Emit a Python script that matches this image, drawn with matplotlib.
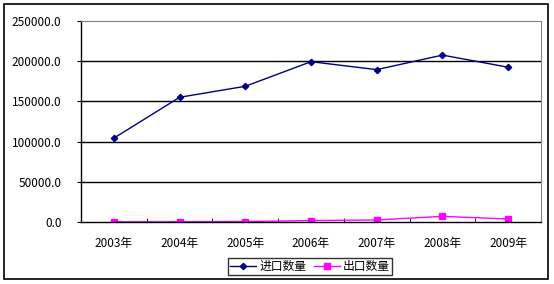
import matplotlib.pyplot as plt
from matplotlib.patches import Rectangle

plt.rcParams['font.family'] = ['Noto Sans CJK SC', 'DejaVu Sans']

#Data
years = ["2003年", "2004年", "2005年", "2006年", "2007年", "2008年", "2009年"]
imports = [104300, 155100, 168800, 199400, 189500, 207600, 192500]
exports = [200, 300, 600, 1800, 2500, 7000, 3700]
y_ticks = [0, 50000, 100000, 150000, 200000, 250000]

#Figure
fig = plt.figure(figsize=(5.54, 2.84), dpi=100)
fig.patches.append(Rectangle((4 / 554, 1 - 279 / 284), 544 / 554, 275 / 284,
                             transform=fig.transFigure, fill=False,
                             edgecolor="black", linewidth=1.2))
ax = fig.add_axes([81 / 554, 1 - 222 / 284, 460 / 554, 201 / 284])

x = list(range(len(years)))
ax.plot(x, imports, color="#000080", marker="D", markersize=3.2, linewidth=1, label="进口数量")
ax.plot(x, exports, color="#FF00FF", marker="s", markersize=3.8, linewidth=1, label="出口数量")

ax.set_xlim(-0.5, len(years) - 0.5)
ax.set_ylim(0, 250000)
ax.set_yticks(y_ticks)
ax.set_yticklabels(["%.1f" % v for v in y_ticks], fontsize=8.5)
ax.set_xticks(x)
ax.set_xticklabels(years, fontsize=8.5)
ax.set_xticks([i + 0.5 for i in x[:-1]], minor=True)
ax.tick_params(axis="x", which="major", length=0, pad=11)
ax.tick_params(axis="x", which="minor", length=3, direction="in")
ax.tick_params(axis="y", length=3, direction="out", pad=11)

for v in y_ticks[1:-1]:
    ax.axhline(v, color="black", linewidth=1, zorder=0)
ax.spines["top"].set_color("#808080")
ax.spines["right"].set_color("#808080")
ax.spines["left"].set_linewidth(1)
ax.spines["bottom"].set_linewidth(1)

leg = fig.legend(loc="center", bbox_to_anchor=(310 / 554, 1 - 266.5 / 284), ncol=2,
                 fontsize=8.5, frameon=True, fancybox=False, edgecolor="black",
                 handlelength=2.2, handletextpad=0.3, columnspacing=0.6,
                 borderpad=0.2)
leg.get_frame().set_linewidth(1)

fig.savefig("out.png", dpi=100)
